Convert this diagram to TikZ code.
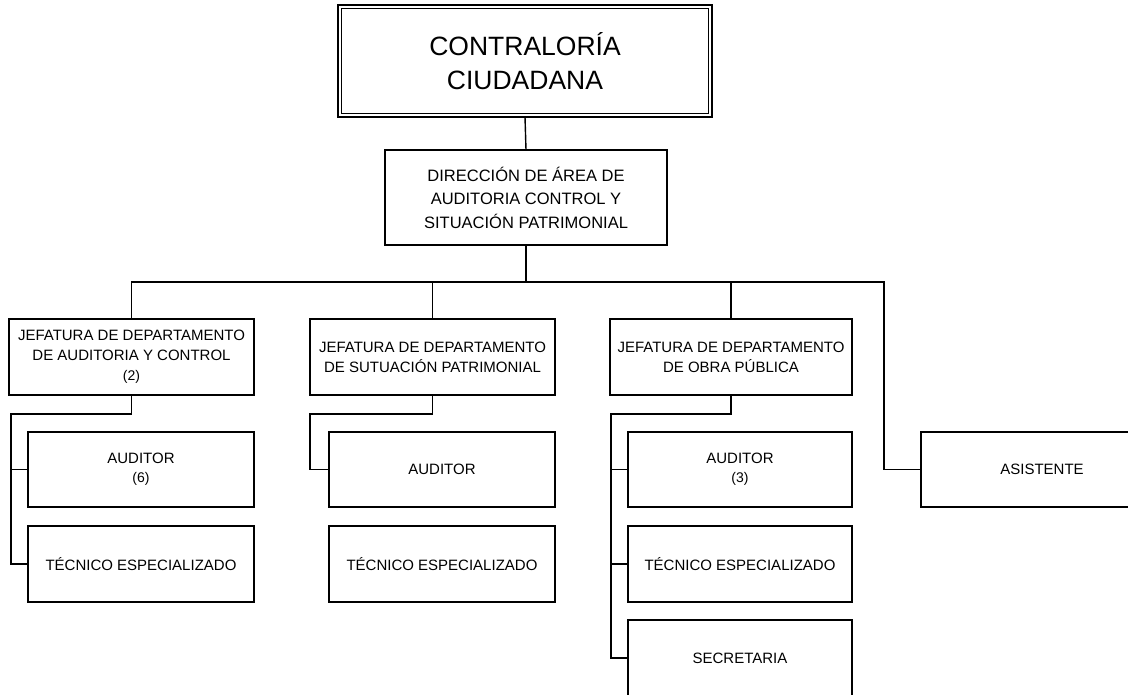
\documentclass[tikz,border=0pt]{standalone}
\usepackage{fontspec}
\setmainfont{Liberation Sans}
\begin{document}
\begin{tikzpicture}[x=1pt,y=-1pt,
  box/.style={draw=black, line width=1.3pt, fill=white, inner sep=0pt, outer sep=0pt, align=center},
  jef/.style={box, minimum width=245pt, minimum height=76pt, font=\fontsize{15}{20}\selectfont},
  small/.style={box, minimum height=75pt, font=\fontsize{15}{19}\selectfont},
  conn/.style={draw=black, line width=1.4pt},
  thickconn/.style={draw=black, line width=2pt}]
\useasboundingbox (0,0) rectangle (1128,694);
\begin{scope}
\clip (0,0) rectangle (1128,694);
% top
\node[box, minimum width=374pt, minimum height=112pt,
  font=\fontsize{26.5}{34}\selectfont] (top) at (525,61) {CONTRALORÍA\\CIUDADANA};
\draw[line width=1.1pt] ([shift={(3.5,3.5)}]top.north west) rectangle ([shift={(-3.5,-3.5)}]top.south east);
\node[box, minimum width=282pt, minimum height=95pt, font=\fontsize{16.5}{23.5}\selectfont]
  (dir) at (526,197.5) {DIRECCIÓN DE ÁREA DE\\AUDITORIA CONTROL Y\\SITUACIÓN PATRIMONIAL};
% jefaturas
\node[jef] (jef1) at (131.5,357) {JEFATURA DE DEPARTAMENTO\\DE AUDITORIA Y CONTROL\\{\fontsize{14}{17}\selectfont (2)}};
\node[jef] (jef2) at (432.5,357) {JEFATURA DE DEPARTAMENTO\\DE SUTUACIÓN PATRIMONIAL};
\node[jef, minimum width=242pt] (jef3) at (731,357) {JEFATURA DE DEPARTAMENTO\\DE OBRA PÚBLICA};
% column 1
\node[small, minimum width=226pt] (aud1) at (141,469.5) {AUDITOR\\{\fontsize{14}{17}\selectfont (6)}};
\node[small, minimum width=226pt, minimum height=76pt] (tec1) at (141,564) {TÉCNICO ESPECIALIZADO};
% column 2
\node[small, minimum width=226pt] (aud2) at (442,469.5) {AUDITOR};
\node[small, minimum width=226pt, minimum height=76pt] (tec2) at (442,564) {TÉCNICO ESPECIALIZADO};
% column 3
\node[small, minimum width=224pt] (aud3) at (740,469.5) {AUDITOR\\{\fontsize{14}{17}\selectfont (3)}};
\node[small, minimum width=224pt, minimum height=76pt] (tec3) at (740,564) {TÉCNICO ESPECIALIZADO};
\node[small, minimum width=224pt, minimum height=76pt] (sec) at (740,658) {SECRETARIA};
% asistente
\node[small, minimum width=242pt] (asis) at (1042,469.5) {ASISTENTE};
% connectors
\coordinate (busL) at (131.5,282);
\coordinate (busM) at (526,282);
\coordinate (busR) at (884,282);
\draw[conn] (top.south) -- (dir.north);
\draw[thickconn] (dir.south) -- (busM);
\draw[conn] (jef1.north) -- (busL) -- (busR) -- (busR |- asis.west) -- (asis.west);
\draw[conn] (jef2.north) -- (jef2.north |- busL);
\draw[conn] (jef3.north) -- (jef3.north |- busL);
% jef1 subtree
\coordinate (j1a) at (131.5,414);
\coordinate (j1b) at (11,414);
\draw[conn] (jef1.south) -- (j1a) -- (j1b) -- (j1b |- tec1.west) -- (tec1.west);
\draw[conn] (j1b |- aud1.west) -- (aud1.west);
% jef2 subtree
\coordinate (j2a) at (432.5,414);
\coordinate (j2b) at (310,414);
\draw[conn] (jef2.south) -- (j2a) -- (j2b) -- (j2b |- aud2.west) -- (aud2.west);
% jef3 subtree
\coordinate (j3a) at (731,414);
\coordinate (j3b) at (611,414);
\draw[thickconn] (jef3.south) -- (j3a) -- (j3b) -- (j3b |- sec.west) -- (sec.west);
\draw[conn] (j3b |- aud3.west) -- (aud3.west);
\draw[conn] (j3b |- tec3.west) -- (tec3.west);
\end{scope}
\end{tikzpicture}
\end{document}
